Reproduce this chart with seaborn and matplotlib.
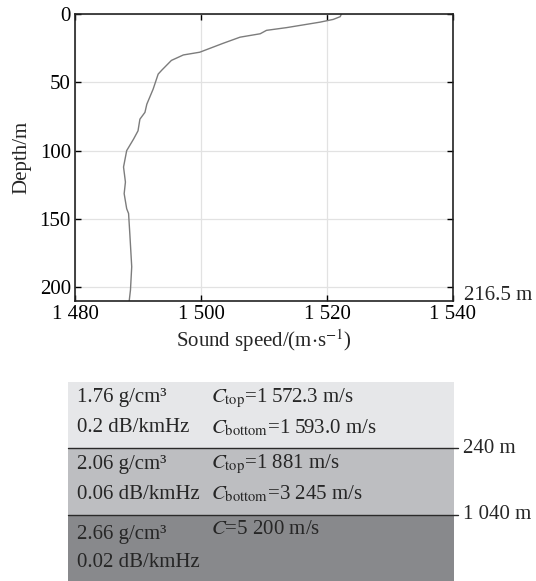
import numpy as np
import pandas as pd
import matplotlib
matplotlib.use('Agg')
import matplotlib.pyplot as plt
import seaborn as sns

# ==================== DATA ====================
# sound speed profile
speed = [1522.3, 1522.1, 1521.0, 1518.9, 1513.6, 1510.4, 1509.4, 1506.2, 1503.5,
         1499.8, 1497.2, 1495.3, 1493.8, 1493.2, 1492.4, 1491.4, 1491.1, 1490.3,
         1490.0, 1489.3, 1488.2, 1487.7, 1488.0, 1487.8, 1488.2, 1488.5, 1488.7,
         1489.0, 1488.8, 1488.6]
depth = [0.0, 2.0, 4.0, 6.0, 10.0, 12.0, 14.5, 17.0, 21.5,
         28.0, 30.0, 34.0, 41.0, 44.0, 55.0, 66.0, 72.0, 77.0,
         85.5, 91.5, 100.0, 112.0, 123.0, 131.5, 142.5, 146.0, 161.0,
         185.0, 202.0, 210.0]

x_ticks = [1480, 1500, 1520, 1540]
y_ticks = [0, 50, 100, 150, 200]
water_depth_label = '216.5 m'

# seabed layers
layer_density = ['1.76 g/cm³', '2.06 g/cm³', '2.66 g/cm³']
layer_atten = ['0.2 dB/kmHz', '0.06 dB/kmHz', '0.02 dB/kmHz']
layer_speed_top = [r'$C_{\rm top}$=1 572.3 m/s', r'$C_{\rm top}$=1 881 m/s', r'$C$=5 200 m/s']
layer_speed_bot = [r'$C_{\rm bottom}$=1 593.0 m/s', r'$C_{\rm bottom}$=3 245 m/s', '']
layer_colors = ['#e6e7e9', '#bdbec1', '#88898c']
boundary_labels = ['240 m', '1 040 m']

profile = pd.DataFrame({'speed': speed, 'depth': depth})

# ==================== STYLE ====================
sns.set_style('ticks')
plt.rcParams['font.family'] = ['Liberation Serif', 'DejaVu Serif']
plt.rcParams['mathtext.fontset'] = 'stix'
plt.rcParams['axes.unicode_minus'] = False

FS = 15
fig = plt.figure(figsize=(5.36, 5.81), dpi=100)

# ==================== PROFILE ====================
ax = fig.add_axes([0.140, 0.482, 0.705, 0.494])
sns.lineplot(data=profile, x='speed', y='depth', sort=False, estimator=None,
             color='#7c7c7c', lw=1.0, ax=ax)
ax.set_xlim(1480, 1540)
ax.set_ylim(210, 0)
ax.set_xticks(x_ticks)
ax.set_xticklabels([f'{v:,}'.replace(',', ' ') for v in x_ticks])
ax.set_yticks(y_ticks)
ax.grid(True, color='#e2e2e2', lw=0.9)
ax.set_axisbelow(True)
ax.tick_params(direction='in', top=True, right=True, labelsize=FS, length=4,
               width=1, pad=3, colors='black')
for s in ax.spines.values():
    s.set_linewidth(1.2)
    s.set_color('#222222')
ax.set_xlabel(r'Sound speed/(m$\cdot$s$^{-1}$)', fontsize=FS, labelpad=2)
ax.set_ylabel('Depth/m', fontsize=FS, labelpad=6)
ax.text(1.03, 0.02, water_depth_label, transform=ax.transAxes, fontsize=FS,
        va='center', ha='left')

# ==================== SEABED LAYERS ====================
lx = fig.add_axes([0.1263, 0.0, 0.7207, 0.3425])
lx.set_xlim(0, 1)
lx.set_ylim(len(layer_colors), 0)
lx.axis('off')
for i, c in enumerate(layer_colors):
    lx.axhspan(i, i + 1, color=c, lw=0)
    last = i == len(layer_colors) - 1
    y1 = i + (0.30 if last else 0.24)
    y2 = i + (0.72 if last else 0.69)
    lx.text(0.024, y1, layer_density[i], fontsize=FS, va='center')
    lx.text(0.024, y2, layer_atten[i], fontsize=FS, va='center')
    lx.text(0.372, i + (0.22 if last else 0.24), layer_speed_top[i], fontsize=FS, va='center')
    if layer_speed_bot[i]:
        lx.text(0.372, y2, layer_speed_bot[i], fontsize=FS, va='center')
for j, lab in enumerate(boundary_labels):
    lx.plot([0, 1.01], [j + 1, j + 1], color='#2a2a2a', lw=1.0, clip_on=False)
    lx.text(1.023, j + 1, lab, fontsize=FS, va='center', ha='left')

plt.savefig('out.png', dpi=100)
